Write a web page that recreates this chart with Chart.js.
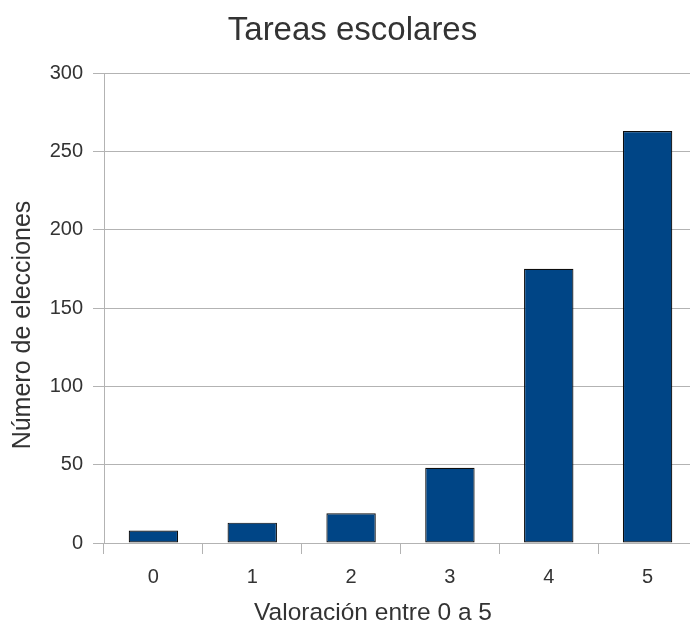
<!DOCTYPE html>
<html>
<head>
<meta charset="utf-8">
<script src="https://cdn.jsdelivr.net/npm/chart.js@4/dist/chart.umd.min.js"></script>
<style>
  html, body { margin: 0; padding: 0; background: #ffffff; overflow: hidden; }
  #wrap { position: relative; width: 705px; height: 623px; }
</style>
</head>
<body>
<div id="wrap"><canvas id="c"></canvas></div>
<script>
const chartTitle = "Tareas escolares";
const xAxisTitle = "Valoración entre 0 a 5";
const yAxisTitle = "Número de elecciones";
const categories = ["0", "1", "2", "3", "4", "5"];
const seriesValues = [8, 13, 19, 48, 175, 263];
const yTicks = [0, 50, 100, 150, 200, 250, 300];

const textColor = "#333333";
const fontFamily = "'Liberation Sans', Arial, sans-serif";

// Draws the chart title and the two axis titles as canvas text
const titlesPlugin = {
  id: "titles",
  afterDraw(chart) {
    const ctx = chart.ctx;
    ctx.save();
    ctx.fillStyle = textColor;
    ctx.textAlign = "center";
    ctx.textBaseline = "alphabetic";
    ctx.font = "33px " + fontFamily;
    ctx.fillText(chartTitle, 352.5, 40);
    ctx.font = "24.5px " + fontFamily;
    ctx.fillText(xAxisTitle, 373, 620);
    ctx.translate(29.5, 325);
    ctx.rotate(-Math.PI / 2);
    ctx.font = "25px " + fontFamily;
    ctx.fillText(yAxisTitle, 0, 0);
    ctx.restore();
  }
};

new Chart(document.getElementById("c"), {
  type: "bar",
  data: {
    labels: categories,
    datasets: [{
      data: seriesValues,
      backgroundColor: "#004586",
      borderColor: "#0d0d0d",
      borderWidth: 1.2,
      borderSkipped: false,
      barPercentage: 0.5,
      categoryPercentage: 1.0
    }]
  },
  plugins: [titlesPlugin],
  options: {
    responsive: true,
    maintainAspectRatio: false,
    animation: false,
    layout: { padding: { left: 0, right: 8, top: 73, bottom: 0 } },
    plugins: {
      legend: { display: false },
      tooltip: { enabled: false },
      title: { display: false }
    },
    scales: {
      x: {
        offset: true,
        grid: {
          offset: true,
          drawOnChartArea: false,
          drawTicks: true,
          tickLength: 11,
          color: "#b3b3b3"
        },
        border: { display: true, color: "#b3b3b3" },
        ticks: {
          color: textColor,
          font: { family: fontFamily, size: 20 },
          padding: 11,
          maxRotation: 0
        },
        afterFit: (s) => { s.height = 80; }
      },
      y: {
        min: 0,
        max: 300,
        afterBuildTicks: (s) => { s.ticks = yTicks.map(v => ({ value: v })); },
        grid: {
          color: "#b3b3b3",
          drawTicks: true,
          tickLength: 11
        },
        border: { display: true, color: "#b3b3b3" },
        ticks: {
          color: textColor,
          font: { family: fontFamily, size: 20 },
          padding: 10
        },
        afterFit: (s) => { s.width = 104; }
      }
    }
  }
});
</script>
</body>
</html>
